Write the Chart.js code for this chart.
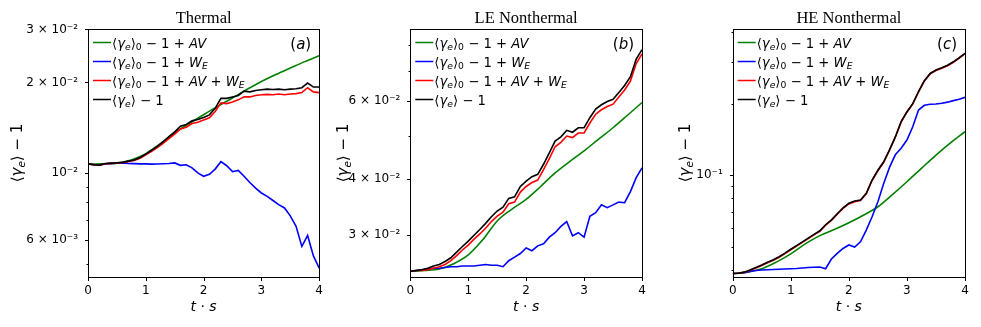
<!DOCTYPE html>
<html><head><meta charset="utf-8">
<script src="https://cdn.jsdelivr.net/npm/chart.js@4.4.1/dist/chart.umd.min.js"></script>
<style>
html,body{margin:0;padding:0;background:#fff;}
#wrap{position:relative;width:981px;height:327px;overflow:hidden;background:#fff;}
canvas{position:absolute;top:0;}
</style></head><body><div id="wrap">
<canvas id="c0" width="330" height="327" style="left:0px"></canvas>
<canvas id="c1" width="330" height="327" style="left:330px"></canvas>
<canvas id="c2" width="321" height="327" style="left:660px"></canvas>
</div>
<script>
// ---------------- data ----------------
const tFine = [0,0.1,0.2,0.3,0.4,0.5,0.6,0.7,0.8,0.9,1.0,1.1,1.2,1.3,1.4,1.5,1.6,1.7,1.8,1.9,2.0,2.1,2.2,2.3,2.4,2.5,2.6,2.7,2.8,2.9,3.0,3.1,3.2,3.3,3.4,3.5,3.6,3.7,3.8,3.9,4.0];
const tSmooth = [0,0.25,0.5,0.75,1.0,1.25,1.5,1.75,2.0,2.25,2.5,2.75,3.0,3.25,3.5,3.75,4.0];
const xTicks = [0,1,2,3,4];
const xTickLabels = ['0','1','2','3','4'];
const panelTitles = ['Thermal','LE Nonthermal','HE Nonthermal'];
const panelTags = ['a','b','c'];

// Thermal (panel a)
const thermalAV = [0.01070,0.01072,0.01078,0.01105,0.01159,0.01250,0.01360,0.01460,0.01562,0.01668,0.01775,0.01895,0.02015,0.02125,0.02233,0.02345,0.02453];
const thermalWE = [0.01072,0.01065,0.01063,0.01072,0.01075,0.01078,0.01080,0.01076,0.01074,0.01072,0.01072,0.01070,0.01071,0.01073,0.01075,0.01080,0.01060,0.01065,0.01040,0.01000,0.00975,0.00990,0.01030,0.01090,0.01057,0.01010,0.01020,0.00975,0.00930,0.00890,0.00858,0.00836,0.00810,0.00785,0.00765,0.00720,0.00665,0.00570,0.00620,0.00530,0.00483];
const thermalAVWE = [0.01072,0.01065,0.01062,0.01073,0.01076,0.01078,0.01083,0.01092,0.01100,0.01120,0.01148,0.01180,0.01215,0.01255,0.01300,0.01345,0.01400,0.01420,0.01460,0.01475,0.01500,0.01525,0.01600,0.01710,0.01700,0.01720,0.01750,0.01790,0.01790,0.01810,0.01820,0.01825,0.01820,0.01830,0.01820,0.01830,0.01835,0.01850,0.01920,0.01860,0.01850];
const thermalTotal = [0.01072,0.01065,0.01062,0.01075,0.01078,0.01080,0.01085,0.01095,0.01105,0.01125,0.01155,0.01190,0.01225,0.01270,0.01320,0.01370,0.01430,0.01450,0.01490,0.01505,0.01530,0.01560,0.01640,0.01770,0.01770,0.01790,0.01810,0.01870,0.01860,0.01880,0.01890,0.01900,0.01895,0.01900,0.01890,0.01900,0.01905,0.01920,0.01990,0.01930,0.01930];
const thermalYTicks = [0.005,0.006,0.007,0.008,0.009,0.01,0.02,0.03];
const thermalYTickLabels = ['','6 × 10⁻³','','','','10⁻²','2 × 10⁻²','3 × 10⁻²'];

// LE Nonthermal (panel b)
const leAV = [0.0248,0.0249,0.0251,0.0258,0.0270,0.0292,0.0322,0.0342,0.0360,0.0385,0.0413,0.0438,0.0463,0.0492,0.0522,0.0557,0.0595];
const leWE = [0.0248,0.0249,0.0250,0.0251,0.0252,0.0252,0.0253,0.0254,0.0254,0.0255,0.0255,0.0255,0.0256,0.0257,0.0256,0.0256,0.0254,0.0262,0.0267,0.0272,0.0280,0.0276,0.0283,0.0286,0.0296,0.0303,0.0313,0.0321,0.0298,0.0303,0.0296,0.0330,0.0336,0.0350,0.0345,0.0350,0.0355,0.0354,0.0375,0.0403,0.0424];
const leAVWE = [0.0248,0.0249,0.0249,0.0250,0.0252,0.0254,0.0257,0.0262,0.0269,0.0277,0.0284,0.0293,0.0301,0.0310,0.0321,0.0330,0.0337,0.0352,0.0355,0.0374,0.0385,0.0393,0.0398,0.0420,0.0445,0.0473,0.0484,0.0500,0.0496,0.0508,0.0508,0.0535,0.0560,0.0573,0.0583,0.0590,0.0612,0.0635,0.0665,0.0728,0.0765];
const leTotal = [0.0248,0.0249,0.0250,0.0252,0.0255,0.0257,0.0261,0.0266,0.0274,0.0282,0.0290,0.0299,0.0308,0.0318,0.0329,0.0339,0.0346,0.0362,0.0365,0.0385,0.0396,0.0405,0.0410,0.0432,0.0458,0.0487,0.0498,0.0515,0.0510,0.0522,0.0522,0.0550,0.0575,0.0588,0.0598,0.0605,0.0627,0.0650,0.0680,0.0745,0.0782];
const leYTicks = [0.03,0.04,0.05,0.06,0.07,0.08];
const leYTickLabels = ['3 × 10⁻²','4 × 10⁻²','','6 × 10⁻²','',''];

// HE Nonthermal (panel c)
const heAV = [0.0387,0.0392,0.0405,0.0432,0.0468,0.0515,0.0558,0.0592,0.0632,0.0680,0.0738,0.0830,0.0940,0.1070,0.1217,0.1370,0.1525];
const heWE = [0.0387,0.0388,0.0390,0.0395,0.0398,0.0400,0.0401,0.0402,0.0403,0.0404,0.0405,0.0406,0.0408,0.0410,0.0411,0.0412,0.0405,0.0445,0.0470,0.0493,0.0510,0.0500,0.0526,0.0589,0.0670,0.0775,0.0925,0.1080,0.1220,0.1300,0.1407,0.1600,0.1880,0.1970,0.1990,0.1995,0.2010,0.2030,0.2060,0.2090,0.2126];
const heAVWE = [0.0387,0.0388,0.0391,0.0399,0.0408,0.0418,0.0429,0.0440,0.0453,0.0469,0.0487,0.0505,0.0523,0.0542,0.0562,0.0582,0.0617,0.0647,0.0686,0.0726,0.0758,0.0775,0.0783,0.0836,0.0951,0.1045,0.1135,0.1275,0.1445,0.1672,0.1842,0.1992,0.2240,0.2490,0.2668,0.2758,0.2818,0.2888,0.2988,0.3108,0.3242];
const heTotal = [0.0387,0.0388,0.0392,0.0400,0.0410,0.0420,0.0431,0.0442,0.0455,0.0471,0.0489,0.0507,0.0525,0.0545,0.0565,0.0585,0.0620,0.0650,0.0690,0.0730,0.0763,0.0780,0.0788,0.0840,0.0956,0.1050,0.1140,0.1280,0.1450,0.1680,0.1850,0.2000,0.2250,0.2500,0.2680,0.2770,0.2830,0.2900,0.3000,0.3120,0.3255];
const heYTicks = [0.04,0.05,0.06,0.07,0.08,0.09,0.1,0.2,0.3,0.4];
const heYTickLabels = ['','','','','','','10⁻¹','','',''];

// ---------------- layout / style ----------------
const panels = [
  {id:'c0', av:thermalAV, we:thermalWE, avwe:thermalAVWE, tot:thermalTotal, yt:thermalYTicks, yl:thermalYTickLabels, left:88, right:10.7, yMin:0.00451, yMax:0.0301, yLabelX:17},
  {id:'c1', av:leAV, we:leWE, avwe:leAVWE, tot:leTotal, yt:leYTicks, yl:leYTickLabels, left:80.3, right:18, yMin:0.02408, yMax:0.0871, yLabelX:13},
  {id:'c2', av:heAV, we:heWE, avwe:heAVWE, tot:heTotal, yt:heYTicks, yl:heYTickLabels, left:72.7, right:16, yMin:0.0374, yMax:0.412, yLabelX:25}
];
const COL = {av:'#008000', we:'#0000ff', avwe:'#ff0000', tot:'#000000'};
const MATH = "'DejaVu Sans'";

function pairs(t, v){ return t.map((x,i)=>({x:x, y:v[i]})); }

function fontFor(st,size){
  const sub = st.includes('s');
  const it = st.includes('i');
  return (it?'italic ':'') + (sub? (size*0.7).toFixed(2) : size) + 'px ' + MATH;
}
function richWidth(ctx, segs, size){
  let w=0;
  for(const [t,st] of segs){ ctx.font = fontFor(st,size); w += ctx.measureText(t).width; }
  return w;
}
function drawRich(ctx, segs, x, y, size, align){
  let w = richWidth(ctx, segs, size);
  let cx = align==='center' ? x - w/2 : (align==='right' ? x - w : x);
  ctx.textBaseline = 'alphabetic';
  ctx.textAlign = 'left';
  for(const [t,st] of segs){
    ctx.font = fontFor(st,size);
    const dy = st.includes('s') ? size*0.22 : 0;
    ctx.fillText(t, cx, y+dy);
    cx += ctx.measureText(t).width;
  }
}
const G0 = [['⟨','n'],['γ','i'],['e','is'],['⟩','n'],['0','s'],[' − 1 + ','n']];
const legendItems = [
  {c:COL.av,   segs:[...G0, ['AV','i']]},
  {c:COL.we,   segs:[...G0, ['W','i'],['E','is']]},
  {c:COL.avwe, segs:[...G0, ['AV','i'],[' + ','n'],['W','i'],['E','is']]},
  {c:COL.tot,  segs:[['⟨','n'],['γ','i'],['e','is'],['⟩ − 1','n']]}
];
const yLabelSegs = [['⟨','n'],['γ','i'],['e','is'],['⟩ − 1','n']];
const xLabelSegs = [['t','i'],[' · ','n'],['s','i']];

function makeDecor(p, idx){
  return {
    id:'decor'+idx,
    afterDraw(chart){
      const ctx = chart.ctx, a = chart.chartArea;
      const ys = chart.scales.y, xs = chart.scales.x;
      ctx.save();
      ctx.fillStyle = '#000'; ctx.strokeStyle = '#000';
      ctx.lineWidth = 1;
      ctx.strokeRect(Math.round(a.left)+0.5, Math.round(a.top)+0.5, Math.round(a.right)-Math.round(a.left), Math.round(a.bottom)-Math.round(a.top));
      p.yt.forEach((v,i)=>{
        const y = Math.round(ys.getPixelForValue(v))+0.5;
        const len = p.yl[i] ? 3.5 : 2;
        ctx.beginPath(); ctx.moveTo(Math.round(a.left)+0.5, y); ctx.lineTo(Math.round(a.left)+0.5-len, y); ctx.stroke();
      });
      xTicks.forEach(v=>{
        const x = Math.round(xs.getPixelForValue(v))+0.5;
        ctx.beginPath(); ctx.moveTo(x, Math.round(a.bottom)+0.5); ctx.lineTo(x, Math.round(a.bottom)+4); ctx.stroke();
      });
      legendItems.forEach((it,k)=>{
        const y = 42.5 + k*19;
        ctx.strokeStyle = it.c; ctx.lineWidth = 1.5;
        ctx.beginPath(); ctx.moveTo(a.left+5, y); ctx.lineTo(a.left+23, y); ctx.stroke();
        ctx.fillStyle = '#000';
        drawRich(ctx, it.segs, a.left+24, y+5, 13.2, 'left');
      });
      drawRich(ctx, [['(','n'],[panelTags[idx],'i'],[')','n']], a.right-8, 49, 15, 'right');
      ctx.font = "16.5px 'Liberation Serif'";
      ctx.textAlign = 'center'; ctx.textBaseline='alphabetic';
      ctx.fillText(panelTitles[idx], (a.left+a.right)/2, 23);
      drawRich(ctx, xLabelSegs, (a.left+a.right)/2, 311, 14, 'center');
      ctx.save();
      ctx.translate(p.yLabelX+5, (a.top+a.bottom)/2);
      ctx.rotate(-Math.PI/2);
      drawRich(ctx, yLabelSegs, 0, 0, 15, 'center');
      ctx.restore();
      ctx.restore();
    }
  };
}

panels.forEach((p, idx)=>{
  const lineDs = (data, col, smooth)=>({data, borderColor:col, borderWidth:1.6, pointRadius:0, fill:false,
     tension: smooth?0.4:0, cubicInterpolationMode: smooth?'monotone':'default'});
  new Chart(document.getElementById(p.id), {
    type:'line',
    data:{datasets:[
      lineDs(pairs(tFine,p.tot), COL.tot, false),
      lineDs(pairs(tFine,p.avwe), COL.avwe, false),
      lineDs(pairs(tFine,p.we), COL.we, false),
      lineDs(pairs(tSmooth,p.av), COL.av, true)
    ]},
    options:{
      responsive:false, animation:false, devicePixelRatio:1, events:[],
      layout:{padding:{top:29, bottom:0, left:0, right:p.right}},
      plugins:{legend:{display:false}, title:{display:false}, tooltip:{enabled:false}},
      scales:{
        x:{type:'linear', min:0, max:4,
           grid:{display:false, drawTicks:false, tickLength:0}, border:{display:false},
           afterBuildTicks:s=>{ s.ticks = xTicks.map(v=>({value:v})); },
           ticks:{callback:(v,i)=>xTickLabels[i], padding:7, color:'#000', autoSkip:false, maxRotation:0,
                  font:{family:'DejaVu Sans', size:12}},
           afterFit:s=>{ s.height = 50; }
        },
        y:{type:'logarithmic', min:p.yMin, max:p.yMax,
           grid:{display:false, drawTicks:false, tickLength:0}, border:{display:false},
           afterBuildTicks:s=>{ s.ticks = p.yt.map(v=>({value:v})); },
           ticks:{callback:(v,i)=>p.yl[i], padding:10, color:'#000', autoSkip:false,
                  font:{family:'DejaVu Sans', size:12}},
           afterFit:s=>{ s.width = p.left; }
        }
      }
    },
    plugins:[makeDecor(p, idx)]
  });
});
</script>
</body></html>
